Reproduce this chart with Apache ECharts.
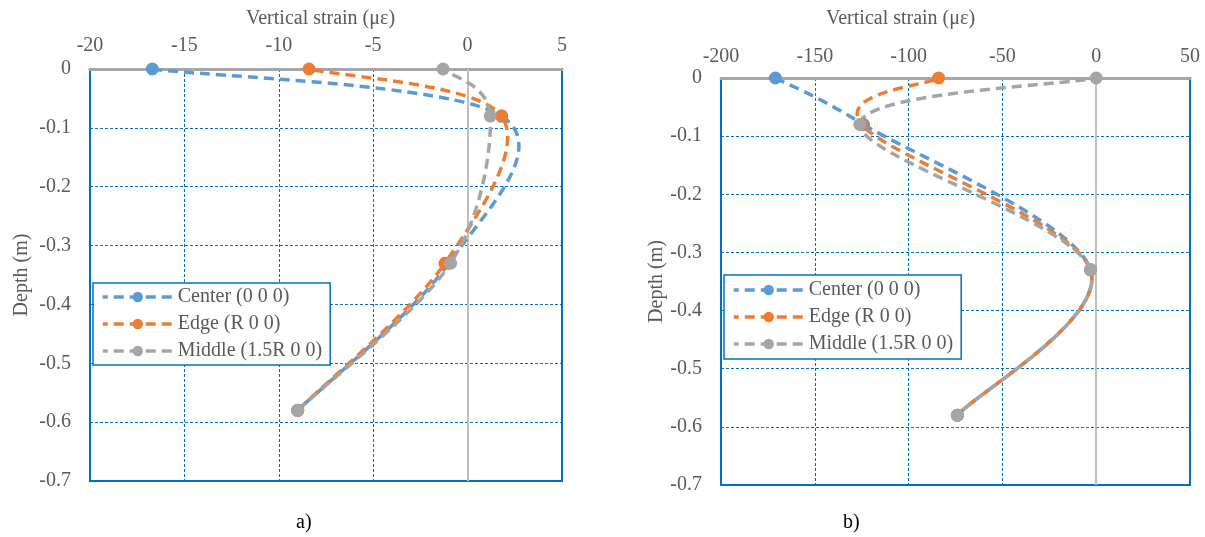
<!DOCTYPE html>
<html>
<head>
<meta charset="utf-8">
<script src="https://cdn.jsdelivr.net/npm/echarts@6/dist/echarts.min.js"></script>
<style>
html,body{margin:0;padding:0;background:#fff;}
#c{width:1205px;height:537px;}
</style>
</head>
<body>
<div id="c"></div>
<script>
// ---- data (depth in m, strain in microstrain) ----
const seriesNames = ['Center (0 0 0)', 'Edge (R 0 0)', 'Middle (1.5R 0 0)'];
const depthA = [0, -0.08, -0.33, -0.58];
const centerA = [-16.7, 1.8, -1.0, -9.0];
const edgeA = [-8.4, 1.8, -1.2, -9.0];
const middleA = [-1.3, 1.2, -0.9, -9.0];

const depthB = [0, -0.08, -0.33, -0.58];
const centerB = [-171, -124, -3, -74];
const edgeB = [-84, -125, -3, -74];
const middleB = [0, -126, -3, -74];

const xTicksA = [-20, -15, -10, -5, 0, 5];
const xTicksB = [-200, -150, -100, -50, 0, 50];
const yTicks = [0, -0.1, -0.2, -0.3, -0.4, -0.5, -0.6, -0.7];

const colors = ['#5B9BD5', '#ED7D31', '#A5A5A5'];
const FONT = 'Liberation Serif';
const TXT = '#595959';
const DASH = [10, 6];
const LW = 3.5;

function pairs(xs, ys) { return xs.map((x, i) => [x, ys[i]]); }

// Smoothed curve (Excel-like Catmull-Rom Bezier) drawn through the data points in pixel space
function curveSeries(name, xs, ys, color, gi, dashOffset) {
  return {
    type: 'custom',
    name: name + ' curve',
    xAxisIndex: gi,
    yAxisIndex: gi,
    coordinateSystem: 'cartesian2d',
    data: pairs(xs, ys),
    silent: true,
    z: 2,
    renderItem: function (params, api) {
      const i = params.dataIndex;
      const n = xs.length;
      if (i >= n - 1) return null;
      const P = k => {
        const kk = Math.max(0, Math.min(n - 1, k));
        return api.coord([xs[kk], ys[kk]]);
      };
      const p0 = P(i - 1), p1 = P(i), p2 = P(i + 1), p3 = P(i + 2);
      const c1 = [p1[0] + (p2[0] - p0[0]) / 6, p1[1] + (p2[1] - p0[1]) / 6];
      const c2 = [p2[0] - (p3[0] - p1[0]) / 6, p2[1] - (p3[1] - p1[1]) / 6];
      return {
        type: 'bezierCurve',
        shape: { x1: p1[0], y1: p1[1], x2: p2[0], y2: p2[1], cpx1: c1[0], cpy1: c1[1], cpx2: c2[0], cpy2: c2[1] },
        style: { stroke: color, fill: null, lineWidth: LW, lineDash: DASH, lineDashOffset: dashOffset, lineCap: 'butt' }
      };
    }
  };
}

function markerSeries(name, xs, ys, color, gi, withZero) {
  const s = {
    name: name,
    type: 'line',
    xAxisIndex: gi,
    yAxisIndex: gi,
    data: pairs(xs, ys),
    symbol: 'circle',
    symbolSize: 13,
    showAllSymbol: true,
    itemStyle: { color: color },
    lineStyle: { color: color, width: LW, type: DASH, opacity: 0 },
    z: 3
  };
  if (withZero) {
    s.markLine = {
      silent: true,
      symbol: 'none',
      label: { show: false },
      lineStyle: { color: '#BFBFBF', type: 'solid', width: 2, opacity: 1 },
      data: [{ xAxis: 0 }],
      z: 1
    };
  }
  return s;
}

const grids = [
  { left: 90, top: 69, width: 472, height: 412 },
  { left: 721, top: 78, width: 469, height: 407 }
];

function xAxisCfg(gi, ticks, margin) {
  return {
    type: 'value',
    gridIndex: gi,
    position: 'top',
    min: ticks[0],
    max: ticks[ticks.length - 1],
    interval: ticks[1] - ticks[0],
    axisLine: { show: true, onZero: false, lineStyle: { color: '#A6A6A6', width: 3 } },
    axisTick: { show: false },
    axisLabel: { color: TXT, fontFamily: FONT, fontSize: 20, margin: margin },
    splitLine: { show: true, lineStyle: { color: '#0070C0', type: [3, 2], width: 1 } }
  };
}

function yAxisCfg(gi, gap) {
  return {
    type: 'value',
    gridIndex: gi,
    min: yTicks[yTicks.length - 1],
    max: yTicks[0],
    interval: 0.1,
    name: 'Depth (m)',
    nameLocation: 'middle',
    nameGap: gap,
    nameTextStyle: { color: TXT, fontFamily: FONT, fontSize: 20 },
    axisLine: { show: false, onZero: false },
    axisTick: { show: false },
    axisLabel: {
      color: TXT, fontFamily: FONT, fontSize: 20, margin: 19,
      formatter: v => { const r = Math.round(v * 10) / 10; return r === 0 ? '0' : String(r); }
    },
    splitLine: { show: true, lineStyle: { color: '#0070C0', type: [3, 2], width: 1 } }
  };
}

const legendData = seriesNames.map((nm, k) => ({
  name: nm,
  lineStyle: { color: colors[k], width: LW, type: DASH, opacity: 1 },
  itemStyle: { color: colors[k] }
}));

const legendCommon = {
  orient: 'vertical',
  data: legendData,
  itemWidth: 70,
  itemHeight: 13,
  itemGap: 7,
  borderColor: '#0070C0',
  borderWidth: 1.5,
  backgroundColor: '#fff',
  textStyle: { color: TXT, fontFamily: FONT, fontSize: 20 },
  selectedMode: false
};

const offsets = [0, 11, 5];

const option = {
  animation: false,
  backgroundColor: '#fff',
  grid: grids.map(g => Object.assign({ show: true, borderColor: '#0070C0', borderWidth: 2, backgroundColor: 'transparent' }, g)),
  xAxis: [xAxisCfg(0, xTicksA, 13), xAxisCfg(1, xTicksB, 11)],
  yAxis: [yAxisCfg(0, 58), yAxisCfg(1, 52)],
  legend: [
    Object.assign({}, legendCommon, { left: 93, top: 283, padding: [4, 8, 4, 8] }),
    Object.assign({}, legendCommon, { left: 724, top: 275, padding: [5, 8, 5, 8] })
  ],
  graphic: [
    { type: 'text', left: 326 - 80, top: 9, style: { text: 'Vertical strain (\u03bc\u03b5)', fill: TXT, font: '20px "Liberation Serif"' } },
    { type: 'text', left: 906 - 80, top: 9, style: { text: 'Vertical strain (\u03bc\u03b5)', fill: TXT, font: '20px "Liberation Serif"' } },
    { type: 'text', left: 296, top: 513, style: { text: 'a)', fill: '#000', font: '20px "Liberation Serif"' } },
    { type: 'text', left: 843, top: 513, style: { text: 'b)', fill: '#000', font: '20px "Liberation Serif"' } }
  ],
  series: [
    curveSeries(seriesNames[0], centerA, depthA, colors[0], 0, offsets[0]),
    curveSeries(seriesNames[1], edgeA, depthA, colors[1], 0, offsets[1]),
    curveSeries(seriesNames[2], middleA, depthA, colors[2], 0, offsets[2]),
    curveSeries(seriesNames[0], centerB, depthB, colors[0], 1, offsets[0]),
    curveSeries(seriesNames[1], edgeB, depthB, colors[1], 1, offsets[1]),
    curveSeries(seriesNames[2], middleB, depthB, colors[2], 1, offsets[2]),
    markerSeries(seriesNames[0], centerA, depthA, colors[0], 0, true),
    markerSeries(seriesNames[1], edgeA, depthA, colors[1], 0, false),
    markerSeries(seriesNames[2], middleA, depthA, colors[2], 0, false),
    markerSeries(seriesNames[0], centerB, depthB, colors[0], 1, true),
    markerSeries(seriesNames[1], edgeB, depthB, colors[1], 1, false),
    markerSeries(seriesNames[2], middleB, depthB, colors[2], 1, false)
  ]
};

const chart = echarts.init(document.getElementById('c'), null, { renderer: 'canvas' });
chart.setOption(option);
</script>
</body>
</html>
